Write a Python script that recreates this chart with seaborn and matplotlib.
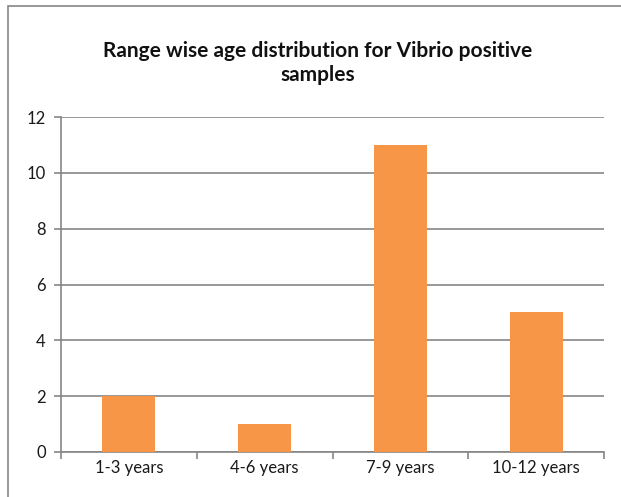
import matplotlib
matplotlib.use("Agg")
import matplotlib.pyplot as plt
import seaborn as sns
import pandas as pd
from matplotlib.patches import Rectangle

categories = ["1-3 years", "4-6 years", "7-9 years", "10-12 years"]
counts = [2, 1, 11, 5]
yticks = [0, 2, 4, 6, 8, 10, 12]
title = "Range wise age distribution for Vibrio positive\nsamples"

sns.set_theme(style="white")
plt.rcParams['font.family'] = ['Lato', 'DejaVu Sans']

df = pd.DataFrame({"category": categories, "count": counts})

fig = plt.figure(figsize=(6.21, 4.97), dpi=100)
ax = fig.add_axes([61/621, 1-452/497, (604-61)/621, (452-117)/497])

sns.barplot(data=df, x="category", y="count", color="#F79646", width=0.39,
            saturation=1, ax=ax, zorder=3, edgecolor="#F79646", linewidth=0)

grey = "#868686"
ax.set_ylim(0, 12)
ax.set_xlim(-0.5, 3.5)
ax.set_yticks(yticks)
ax.set_yticklabels([str(v) for v in yticks], fontsize=12, color="#1a1a1a")
ax.yaxis.grid(True, color=grey, linewidth=1.2, zorder=0)
ax.set_axisbelow(True)
ax.set_xlabel("")
ax.set_ylabel("")
ax.set_xticks([-0.5, 0.5, 1.5, 2.5, 3.5])
ax.set_xticklabels([])
ax.set_xticks([0, 1, 2, 3], minor=True)
ax.set_xticklabels(categories, minor=True, fontsize=12, color="#1a1a1a")
ax.tick_params(axis="x", which="major", length=5, color=grey, width=1.2, direction="out", bottom=True)
ax.tick_params(axis="x", which="minor", length=0, pad=6)
ax.tick_params(axis="y", length=5, color=grey, width=1.2, direction="out", left=True, pad=6)
for s in ["top", "right"]:
    ax.spines[s].set_visible(False)
for s in ["left", "bottom"]:
    ax.spines[s].set_color(grey)
    ax.spines[s].set_linewidth(1.2)

fig.text(318/621, 1-63/497, title, ha="center", va="center", fontsize=15,
         fontweight="bold", color="#111111", linespacing=1.25)

fig.patches.append(Rectangle((7.5/621, -0.1), 1.2, 1-5.5/497+0.1, transform=fig.transFigure,
                             fill=False, edgecolor=grey, linewidth=1.2))

fig.savefig("out.png", dpi=100)
